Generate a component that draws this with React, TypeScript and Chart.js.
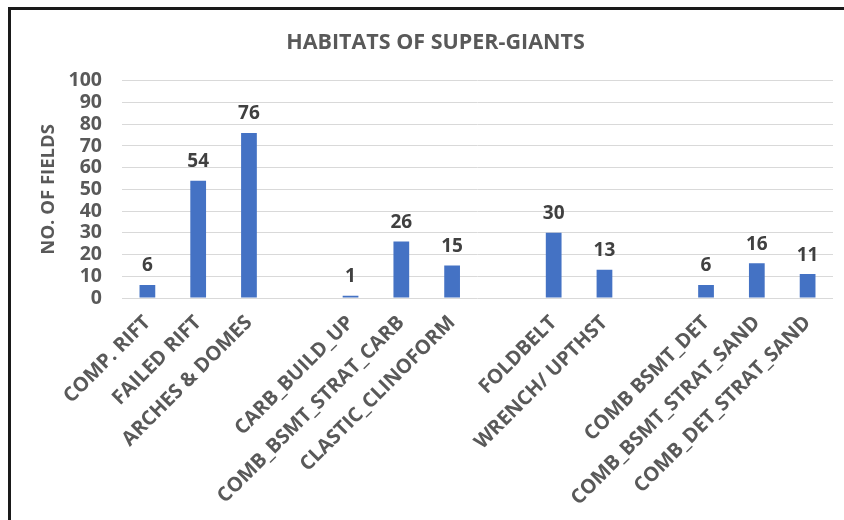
import React, { useEffect, useRef } from "react";
import { Chart, registerables } from "chart.js";

Chart.register(...registerables);

const categories: string[] = [
  "COMP. RIFT",
  "FAILED RIFT",
  "ARCHES & DOMES",
  "",
  "CARB_BUILD_UP",
  "COMB_BSMT_STRAT_CARB",
  "CLASTIC_CLINOFORM",
  "",
  "FOLDBELT",
  "WRENCH/ UPTHST",
  "",
  "COMB BSMT_DET",
  "COMB_BSMT_STRAT_SAND",
  "COMB_DET_STRAT_SAND",
];

const fieldCounts: (number | null)[] = [6, 54, 76, null, 1, 26, 15, null, 30, 13, null, 6, 16, 11];

const yTicks: number[] = [0, 10, 20, 30, 40, 50, 60, 70, 80, 90, 100];

const FONT = "'Open Sans', Lato, sans-serif";

const dataLabelPlugin = {
  id: "dataLabels",
  afterDatasetsDraw(chart: any) {
    const ctx = chart.ctx;
    const meta = chart.getDatasetMeta(0);
    const data = chart.data.datasets[0].data;
    ctx.save();
    ctx.font = `bold 19px ${FONT}`;
    ctx.fillStyle = "#404040";
    ctx.textAlign = "center";
    ctx.textBaseline = "middle";
    meta.data.forEach((bar: any, i: number) => {
      const v = data[i];
      if (v === null || v === undefined) return;
      ctx.fillText(String(v), bar.x, bar.y - 19);
    });
    ctx.restore();
  },
};

export default function App() {
  const canvasRef = useRef<HTMLCanvasElement | null>(null);

  useEffect(() => {
    if (!canvasRef.current) return;
    const chart = new Chart(canvasRef.current, {
      type: "bar",
      data: {
        labels: categories,
        datasets: [
          {
            label: "NO. OF FIELDS",
            data: fieldCounts,
            backgroundColor: "#4472C4",
            borderWidth: 0,
            categoryPercentage: 1,
            barPercentage: 0.31,
          },
        ],
      },
      options: {
        animation: false,
        responsive: false,
        maintainAspectRatio: false,
        layout: { padding: { left: 38, right: 11, top: 0, bottom: 0 } },
        plugins: {
          legend: { display: false },
          tooltip: { enabled: false },
          title: {
            display: true,
            text: "HABITATS OF SUPER-GIANTS",
            color: "#595959",
            font: { family: FONT, size: 21.5, weight: "bold" },
            padding: { top: 30, bottom: 25 },
          },
        },
        scales: {
          x: {
            grid: { display: false },
            border: { display: false },
            ticks: {
              autoSkip: false,
              maxRotation: 45,
              minRotation: 45,
              color: "#595959",
              padding: 5,
              font: { family: FONT, size: 20, weight: "bold" },
            },
            afterFit: (s: any) => {
              s.height = 222;
            },
          },
          y: {
            min: 0,
            max: 100,
            afterBuildTicks: (s: any) => {
              s.ticks = yTicks.map((v) => ({ value: v }));
            },
            grid: { color: "#d9d9d9", lineWidth: 1, drawTicks: false },
            border: { display: false },
            ticks: {
              autoSkip: false,
              stepSize: 10,
              color: "#595959",
              padding: 20,
              font: { family: FONT, size: 19.5, weight: "bold" },
            },
            title: {
              display: true,
              text: "NO. OF FIELDS",
              color: "#595959",
              padding: 0,
              font: { family: FONT, size: 18.5, weight: "bold" },
            },
            afterFit: (s: any) => {
              s.width = 84;
            },
          },
        },
      },
      plugins: [dataLabelPlugin],
    });
    return () => chart.destroy();
  }, []);

  return (
    <div style={{ position: "absolute", left: 0, top: 0, width: 844, height: 520, background: "#fff" }}>
      <canvas ref={canvasRef} width={844} height={520} style={{ display: "block", width: 844, height: 520 }} />
      <div
        style={{
          position: "absolute",
          left: 8,
          top: 7,
          width: 836,
          height: 513,
          borderTop: "3px solid #1a1a1a",
          borderLeft: "3px solid #1a1a1a",
          boxSizing: "border-box",
          pointerEvents: "none",
        }}
      />
    </div>
  );
}
